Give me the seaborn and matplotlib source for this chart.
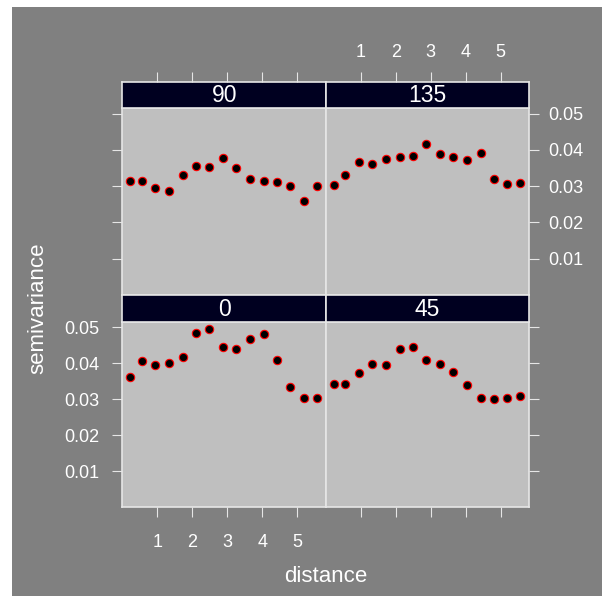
import matplotlib
matplotlib.use('Agg')
import matplotlib.pyplot as plt
import pandas as pd
import seaborn as sns

# directional sample variogram
distance = [0.22, 0.55, 0.94, 1.33, 1.73, 2.12, 2.48, 2.87, 3.26, 3.65, 4.04, 4.43, 4.80, 5.19, 5.56]
gamma_0 = [0.0361, 0.0405, 0.0396, 0.0400, 0.0417, 0.0484, 0.0496, 0.0446, 0.0440, 0.0467,
           0.0481, 0.0408, 0.0333, 0.0304, 0.0304]
gamma_45 = [0.0341, 0.0341, 0.0373, 0.0399, 0.0395, 0.0440, 0.0446, 0.0408, 0.0399, 0.0376,
            0.0338, 0.0304, 0.0301, 0.0304, 0.0310]
gamma_90 = [0.0315, 0.0315, 0.0296, 0.0286, 0.0331, 0.0356, 0.0353, 0.0378, 0.0349, 0.0321,
            0.0315, 0.0311, 0.0299, 0.0258, 0.0299]
gamma_135 = [0.0303, 0.0331, 0.0368, 0.0362, 0.0375, 0.0381, 0.0384, 0.0416, 0.0388, 0.0381,
             0.0371, 0.0391, 0.0319, 0.0306, 0.0309]
x_ticks = [1, 2, 3, 4, 5]
y_ticks = [0.01, 0.02, 0.03, 0.04, 0.05]

df = pd.concat([
    pd.DataFrame({'dist': distance, 'gamma': g, 'dir': d})
    for d, g in [('0', gamma_0), ('45', gamma_45), ('90', gamma_90), ('135', gamma_135)]
])

plt.rcParams['font.family'] = ['Liberation Sans', 'DejaVu Sans']
fig = plt.figure(figsize=(6.02, 5.96), dpi=100, facecolor='white')
# grey device background (white margin on left and top)
bg = plt.Rectangle((12 / 602, 0), 1, (596 - 7) / 596, transform=fig.transFigure,
                   facecolor='#808080', edgecolor='none', zorder=-10)
fig.add_artist(bg)

H = 596
W = 602
cols = {0: (122.3, 326.0), 1: (326.0, 529.3)}
rows = {1: (108.3, 294.7), 0: (321.7, 507.3)}   # 1 = top row, 0 = bottom row
strip_h = 26.8
line_col = '#e6e6e6'
tick_len = 7.5

layout = {'90': (1, 0), '135': (1, 1), '0': (0, 0), '45': (0, 1)}

for d, (r, c) in layout.items():
    x0, x1 = cols[c]
    t, b = rows[r]
    ax = fig.add_axes([x0 / W, (H - b) / H, (x1 - x0) / W, (b - t) / H])
    sax = fig.add_axes([x0 / W, (H - t) / H, (x1 - x0) / W, strip_h / H], sharex=ax)
    sub = df[df['dir'] == d]
    sns.scatterplot(data=sub, x='dist', y='gamma', ax=ax, color='black', edgecolor='red',
                    linewidth=0.8, s=36, legend=False, zorder=3)
    ax.set_facecolor('#bfbfbf')
    ax.set_xlim(0, 5.82)
    ax.set_ylim(0, 0.0515)
    ax.set_xlabel('')
    ax.set_ylabel('')
    for sp in ax.spines.values():
        sp.set_color(line_col)
        sp.set_linewidth(1.2)
    ax.tick_params(colors=line_col, labelcolor='white', length=tick_len, width=0.8,
                   direction='out', labelsize=13, pad=6)

    # y axis: left column ticks on left, right column on right
    ax.set_yticks(y_ticks)
    if c == 0:
        ax.yaxis.tick_left()
        ax.tick_params(axis='y', pad=9)
        if r == 0:
            ax.set_yticklabels([f'{v:.2f}' for v in y_ticks])
        else:
            ax.set_yticklabels([])
    else:
        ax.yaxis.tick_right()
        if r == 1:
            ax.set_yticklabels([f'{v:.2f}' for v in y_ticks])
        else:
            ax.set_yticklabels([])

    # x axis: bottom row on bottom of panel, top row on top of strip
    if r == 0:
        ax.set_xticks(x_ticks)
        ax.xaxis.tick_bottom()
        ax.tick_params(axis='x', pad=12)
        if c == 0:
            ax.set_xticklabels([str(v) for v in x_ticks])
        else:
            ax.set_xticklabels([])
        sax.tick_params(axis='x', which='both', bottom=False, top=False,
                        labelbottom=False, labeltop=False)
    else:
        ax.tick_params(axis='x', which='both', bottom=False, top=False,
                       labelbottom=False, labeltop=False)
        sax.xaxis.tick_top()
        sax.tick_params(axis='x', colors=line_col, labelcolor='white', length=tick_len,
                        width=0.8, direction='out', labelsize=13, pad=7)
        sax.set_xticks(x_ticks)
        if c == 1:
            sax.set_xticklabels([str(v) for v in x_ticks])
        else:
            sax.set_xticklabels([])

    sax.set_facecolor('#000020')
    sax.set_yticks([])
    for sp in sax.spines.values():
        sp.set_color(line_col)
        sp.set_linewidth(1.2)
    sax.text(0.5, 0.47, d, transform=sax.transAxes, ha='center', va='center',
             color='white', fontsize=16.5)

fig.text(326 / W, (H - 576) / H, 'distance', ha='center', va='center', color='white', fontsize=16)
fig.text(37.5 / W, (H - 308) / H, 'semivariance', ha='center', va='center', color='white',
         fontsize=16, rotation=90)

fig.savefig('out.png', dpi=100, facecolor='white')
